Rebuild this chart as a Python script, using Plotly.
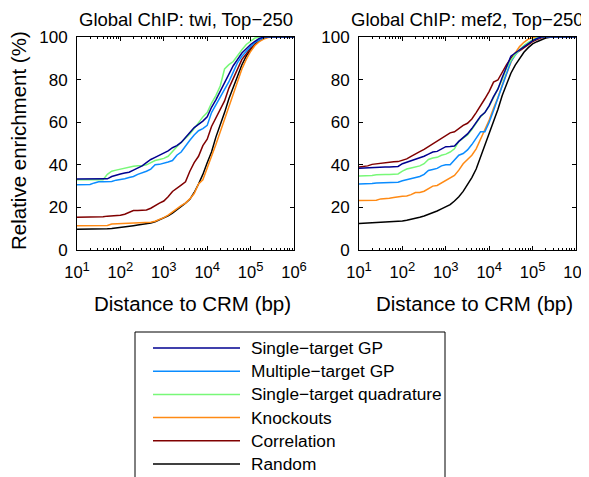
import plotly.graph_objects as go

# ---------------- data ----------------
log_dist = [1.0, 1.1, 1.2, 1.3, 1.4, 1.5, 1.6, 1.7, 1.8, 1.9,
            2.0, 2.1, 2.2, 2.3, 2.4, 2.5, 2.6, 2.7, 2.8, 2.9,
            3.0, 3.1, 3.2, 3.3, 3.4, 3.5, 3.6, 3.7, 3.8, 3.9,
            4.0, 4.1, 4.2, 4.3, 4.4, 4.5, 4.6, 4.7, 4.8, 4.9,
            5.0, 5.1, 5.2, 5.3, 5.4, 5.5, 6.0]
distance_bp = [10 ** v for v in log_dist]

series_names = ["Single\u2212target GP", "Multiple\u2212target GP",
                "Single\u2212target quadrature", "Knockouts",
                "Correlation", "Random"]
series_colors = ["#000090", "#0A8CFF", "#78F878", "#FF8A14", "#800000", "#000000"]

# twi panel
twi_single_gp = [33.3, 33.3, 33.3, 33.3, 33.3, 33.3, 33.3, 33.4, 34.5, 35.2,
                 35.7, 36.1, 36.5, 37.5, 38.5, 39.5, 41.0, 42.5, 43.5, 44.5,
                 45.5, 46.5, 48.0, 49.0, 50.5, 53.0, 55.5, 57.5, 59.0, 60.5,
                 62.5, 67.0, 70.5, 74.5, 78.5, 82.5, 86.5, 89.5, 92.5, 94.5,
                 96.5, 98.0, 99.3, 100, 100, 100, 100]
twi_multi_gp = [30.6, 30.6, 30.6, 30.8, 31.5, 32.0, 32.0, 32.0, 32.2, 32.8,
                33.0, 33.5, 34.0, 34.5, 35.5, 36.2, 37.0, 38.0, 40.0, 40.2,
                40.6, 41.3, 42.0, 44.5, 46.0, 49.0, 51.5, 54.0, 56.0, 57.0,
                58.5, 64.5, 68.0, 71.5, 75.0, 79.0, 83.5, 88.0, 91.0, 93.5,
                95.5, 97.5, 98.8, 99.7, 100, 100, 100]
twi_quadrature = [33.0, 33.0, 33.0, 33.0, 33.0, 33.0, 33.0, 35.5, 37.0, 37.5,
                  38.0, 38.3, 38.8, 39.3, 39.5, 39.5, 40.0, 41.0, 42.0, 42.5,
                  43.0, 44.0, 46.5, 48.5, 50.5, 52.5, 54.5, 57.0, 60.0, 62.5,
                  64.5, 69.0, 72.5, 77.0, 85.0, 87.0, 88.5, 91.5, 94.0, 96.5,
                  98.0, 99.5, 100, 100, 100, 100, 100]
twi_knockouts = [11.4, 11.4, 11.4, 11.4, 11.4, 11.4, 11.4, 11.5, 12.2, 12.3,
                 12.3, 12.4, 12.5, 12.6, 12.7, 12.8, 12.9, 13.0, 13.5, 14.3,
                 15.2, 16.4, 18.0, 19.5, 20.8, 22.0, 24.0, 26.5, 31.0, 33.0,
                 39.0, 44.0, 49.5, 55.5, 61.5, 68.0, 73.5, 79.0, 85.0, 89.5,
                 93.2, 96.0, 97.8, 99.0, 99.8, 100, 100]
twi_correlation = [15.4, 15.4, 15.4, 15.4, 15.4, 15.4, 15.6, 15.9, 16.0, 16.1,
                   16.3, 16.8, 17.5, 18.5, 18.6, 18.6, 18.8, 19.6, 21.0, 22.0,
                   23.0, 25.0, 27.5, 29.2, 30.5, 32.0, 37.0, 41.0, 44.0, 49.0,
                   52.0, 58.0, 62.0, 65.5, 70.0, 76.0, 80.5, 85.0, 89.5, 92.0,
                   94.8, 96.5, 98.2, 99.3, 100, 100, 100]
twi_random = [9.7, 9.7, 9.7, 9.7, 9.8, 9.8, 9.9, 10.0, 10.1, 10.3,
              10.5, 10.8, 11.1, 11.4, 11.7, 12.0, 12.3, 12.7, 13.3, 14.1,
              15.0, 16.0, 17.3, 18.8, 20.4, 22.0, 23.8, 27.0, 31.0, 35.5,
              41.0, 46.0, 53.0, 58.5, 64.5, 71.0, 76.5, 81.5, 87.0, 91.0,
              94.2, 96.8, 98.5, 99.5, 100, 100, 100]

# mef2 panel
mef2_single_gp = [38.4, 38.5, 38.8, 39.0, 39.0, 39.0, 39.0, 39.0, 39.0, 39.2,
                  40.5, 41.2, 41.8, 42.3, 43.2, 44.0, 45.0, 46.0, 46.3, 47.5,
                  48.5, 48.6, 48.8, 51.0, 52.8, 54.5, 57.0, 60.0, 62.8, 64.5,
                  67.8, 72.0, 75.5, 81.0, 86.5, 91.0, 92.5, 94.0, 95.5, 97.0,
                  98.3, 99.3, 100, 100, 100, 100, 100]
mef2_multi_gp = [31.0, 31.0, 31.0, 31.2, 31.5, 31.5, 31.5, 31.5, 31.5, 31.8,
                 32.5, 33.0, 33.5, 34.0, 34.5, 35.5, 37.3, 37.8, 38.3, 39.5,
                 40.0, 40.0, 42.5, 44.5, 45.3, 47.0, 49.5, 52.5, 55.5, 55.5,
                 60.0, 65.5, 71.0, 76.5, 83.0, 88.5, 91.5, 94.0, 95.8, 97.2,
                 98.3, 99.3, 100, 100, 100, 100, 100]
mef2_quadrature = [34.8, 34.8, 34.8, 35.0, 35.3, 35.5, 35.5, 35.5, 35.5, 35.7,
                   37.0, 38.0, 38.5, 39.0, 39.5, 40.5, 42.5, 43.2, 43.5, 44.5,
                   45.0, 46.0, 47.5, 51.0, 52.5, 54.0, 56.5, 59.5, 62.5, 64.5,
                   67.5, 71.5, 75.5, 80.0, 85.5, 89.0, 91.8, 94.0, 96.0, 97.5,
                   98.8, 99.7, 100, 100, 100, 100, 100]
mef2_knockouts = [23.2, 23.2, 23.2, 23.2, 23.4, 24.0, 24.0, 24.3, 24.6, 25.0,
                  25.2, 25.4, 26.0, 27.0, 27.0, 27.6, 28.8, 30.0, 30.3, 31.5,
                  32.5, 33.8, 35.0, 37.5, 40.5, 42.5, 44.5, 47.5, 52.0, 56.5,
                  61.0, 66.5, 71.5, 77.5, 83.0, 88.0, 92.5, 95.5, 97.5, 99.0,
                  99.6, 100, 100, 100, 100, 100, 100]
mef2_correlation = [39.0, 39.2, 39.5, 40.2, 40.5, 40.7, 41.0, 41.2, 41.4, 41.5,
                    42.0, 42.8, 44.0, 45.3, 46.2, 47.2, 48.5, 49.8, 51.0, 52.5,
                    54.0, 55.0, 55.5, 57.0, 58.5, 59.5, 61.5, 64.5, 67.5, 71.0,
                    74.5, 78.8, 79.8, 83.5, 87.0, 90.0, 92.5, 93.5, 95.0, 96.5,
                    97.8, 98.8, 99.6, 100, 100, 100, 100]
mef2_random = [12.5, 12.6, 12.7, 12.8, 12.9, 13.0, 13.1, 13.2, 13.3, 13.4,
               13.6, 14.0, 14.4, 14.9, 15.4, 16.0, 16.7, 17.4, 18.3, 19.3,
               20.2, 21.3, 23.0, 25.0, 27.5, 30.5, 34.0, 38.0, 43.5, 48.5,
               54.0, 60.0, 66.0, 72.5, 78.0, 83.0, 86.8, 90.0, 92.8, 95.0,
               96.8, 97.8, 98.8, 99.5, 99.9, 100, 100]

panel_titles = ["Global ChIP: twi, Top\u2212250", "Global ChIP: mef2, Top\u2212250"]
x_tick_exponents = [1, 2, 3, 4, 5, 6]
y_ticks = [0, 20, 40, 60, 80, 100]

panels = [
    [twi_single_gp, twi_multi_gp, twi_quadrature, twi_knockouts, twi_correlation, twi_random],
    [mef2_single_gp, mef2_multi_gp, mef2_quadrature, mef2_knockouts, mef2_correlation, mef2_random],
]

# ---------------- layout geometry (window pixels) ----------------
PAGE_OFFSET = 8            # default body margin of the html page
W, H = 589 - PAGE_OFFSET, 477 - PAGE_OFFSET
FONT = "Liberation Sans, Arial, Helvetica, sans-serif"
plot_x = [(77, 294), (359, 576)]
plot_y = (37, 250)


def px_x(p):
    return (p - PAGE_OFFSET) / W


def px_y(p):
    return 1 - (p - PAGE_OFFSET) / H


fig = go.Figure()

draw_order = [5, 4, 3, 1, 2, 0]
for pi, panel in enumerate(panels):
    xa = "x" if pi == 0 else "x2"
    ya = "y" if pi == 0 else "y2"
    for si in draw_order:
        fig.add_trace(go.Scatter(
            x=distance_bp, y=panel[si], mode="lines",
            line=dict(color=series_colors[si], width=1.5),
            name=series_names[si], showlegend=False,
            xaxis=xa, yaxis=ya, hoverinfo="skip"))

minor_vals = [m * 10 ** e for e in range(1, 6) for m in range(2, 10)]
axis_common = dict(showline=True, linecolor="black", linewidth=1, mirror="ticks",
                   ticks="inside", ticklen=4, tickcolor="black", showgrid=False,
                   zeroline=False, automargin=False)

for pi in range(2):
    xkey = "xaxis" if pi == 0 else "xaxis2"
    ykey = "yaxis" if pi == 0 else "yaxis2"
    x0, x1 = plot_x[pi]
    fig.layout[xkey] = dict(
        type="log", range=[1, 6], domain=[px_x(x0), px_x(x1)],
        anchor="y" if pi == 0 else "y2",
        tickmode="array", tickvals=[10 ** e for e in x_tick_exponents],
        ticktext=["10<sup><span style='font-size:13px'>%d</span></sup>" % e
                  for e in x_tick_exponents],
        ticklabelstandoff=7, ticklabeloverflow="allow",
        tickfont=dict(family=FONT, size=16.5, color="black"),
        minor=dict(tickmode="array", tickvals=minor_vals, ticks="inside",
                   ticklen=2, tickcolor="black", showgrid=False),
        **axis_common)
    fig.layout[ykey] = dict(
        range=[0, 100], domain=[px_y(plot_y[1]), px_y(plot_y[0])],
        anchor="x" if pi == 0 else "x2", ticklabelstandoff=5,
        tickfont=dict(family=FONT, size=17, color="black"),
        tickmode="array", tickvals=y_ticks, **axis_common)

annotations = []
for pi in range(2):
    x0, x1 = plot_x[pi]
    annotations.append(dict(text=panel_titles[pi], x=px_x((x0 + x1) / 2), y=px_y(19),
                            xref="paper", yref="paper", showarrow=False,
                            xanchor="center", yanchor="middle",
                            font=dict(family=FONT, size=18.5, color="black")))
    annotations.append(dict(text="Distance to CRM (bp)", x=px_x((x0 + x1) / 2 + 7),
                            y=px_y(303), xref="paper", yref="paper", showarrow=False,
                            xanchor="center", yanchor="middle",
                            font=dict(family=FONT, size=20.5, color="black")))
annotations.append(dict(text="Relative enrichment (%)", x=px_x(19), y=px_y(141),
                        xref="paper", yref="paper", showarrow=False, textangle=-90,
                        xanchor="center", yanchor="middle",
                        font=dict(family=FONT, size=20.5, color="black")))

# legend (drawn as shapes + labels)
shapes = [dict(type="rect", xref="paper", yref="paper",
               x0=px_x(135), x1=px_x(445), y0=px_y(495), y1=px_y(332),
               line=dict(color="black", width=1), fillcolor="white", layer="below")]
row0, row_step = 348, 23.2
for si, name in enumerate(series_names):
    yy = row0 + si * row_step
    shapes.append(dict(type="line", xref="paper", yref="paper",
                       x0=px_x(153), x1=px_x(240), y0=px_y(yy), y1=px_y(yy),
                       line=dict(color=series_colors[si], width=1.5)))
    annotations.append(dict(text=name, x=px_x(249), y=px_y(yy), xref="paper",
                            yref="paper", showarrow=False, xanchor="left",
                            yanchor="middle",
                            font=dict(family=FONT, size=17.3, color="black")))

fig.update_layout(width=W, height=H, margin=dict(l=0, r=0, t=0, b=0),
                  paper_bgcolor="white", plot_bgcolor="white",
                  annotations=annotations, shapes=shapes, showlegend=False)

fig.write_html("out.html")
